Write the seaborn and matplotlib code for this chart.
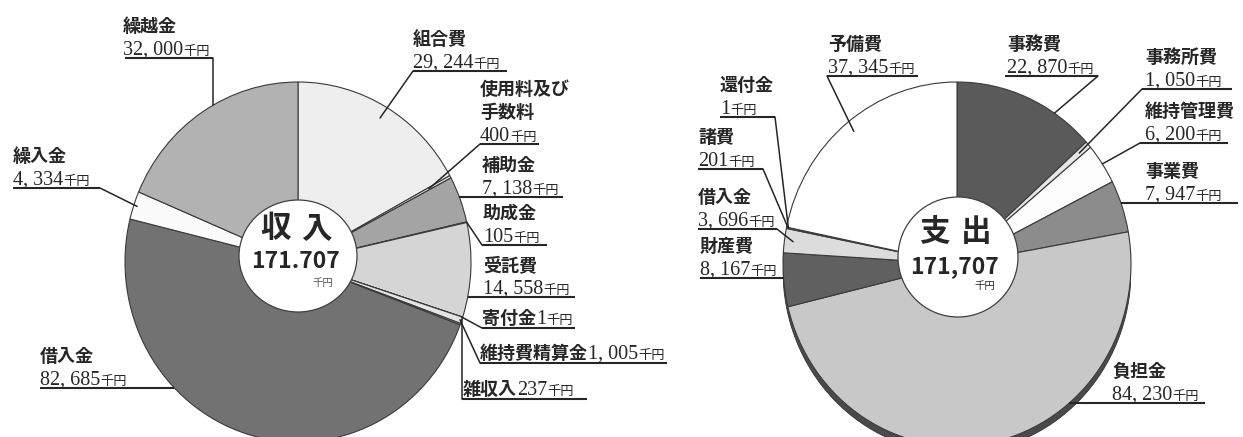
import numpy as np
import matplotlib
matplotlib.use("Agg")
import matplotlib.pyplot as plt
from matplotlib.patches import Ellipse
import seaborn as sns

# ---------------- data ----------------
inc_labels = ["組合費", "使用料及び\n手数料", "補助金", "助成金", "受託費", "寄付金",
              "維持費精算金", "雑収入", "借入金", "繰入金", "繰越金"]
inc_values = [29244, 400, 7138, 105, 14558, 1, 1005, 237, 82685, 4334, 32000]
inc_colors = ["#eeeeee", "#dedede", "#a4a4a4", "#cccccc", "#d5d5d5", "#999999",
              "#e4e4e4", "#bbbbbb", "#727272", "#fbfbfb", "#b2b2b2"]
inc_title = "収 入"
inc_total = "171.707"

exp_labels = ["事務費", "事務所費", "維持管理費", "事業費", "負担金", "財産費",
              "借入金", "諸費", "還付金", "予備費"]
exp_values = [22870, 1050, 6200, 7947, 84230, 8167, 3696, 201, 1, 37345]
exp_colors = ["#5a5a5a", "#e6e6e6", "#fdfdfd", "#8c8c8c", "#c8c8c8", "#606060",
              "#dcdcdc", "#bbbbbb", "#888888", "#ffffff"]
exp_title = "支 出"
exp_total = "171,707"
unit = "千円"

# ---------------- style ----------------
sns.set_theme(style="white")
plt.rcParams["font.family"] = ["Noto Sans CJK JP", "DejaVu Sans"]

W, H = 1243, 437
fig = plt.figure(figsize=(W / 100, H / 100), dpi=100)
fig.patch.set_facecolor("white")

INK = "#262626"
CJK = ["Noto Sans CJK JP", "DejaVu Sans"]
NAME = dict(fontsize=13, fontweight="bold", family=CJK, color=INK)
NUM = dict(fontsize=14.5, family=["Liberation Serif", "DejaVu Serif"], color=INK)
UNIT = dict(fontsize=9.5, family=CJK, color=INK)

# geometry of each donut (pixels): outer ellipse centre/semi-axes, hole centre/radii
inc_geo = dict(cx=298, cy=262, a=173, b=180, hx=298, hy=256, hr=59, hry=56, rim=0)
exp_geo = dict(cx=957, cy=264, a=174, b=182, hx=958, hy=257, hr=60, hry=60, rim=7)

# label layout: text x, underline y, underline span, leader spec, inline flag
inc_layout = [
    dict(x=413, ul=71, span=(413, 507), lead=("pt", 0.5, 0.93, 413)),
    dict(x=480, ul=144, span=(480, 539), lead=("pt", 0.5, 0.86, 480)),
    dict(x=482, ul=197, span=(None, 563), lead=("edge",)),
    dict(x=483, ul=245, span=(482, 547), lead=("pt", 0.5, 1.0, 482)),
    dict(x=483, ul=297, span=(None, 575), lead=("edge",)),
    dict(x=482, ul=328, span=(482, 575), lead=("pt", 0.5, 0.99, 482), inline=True),
    dict(x=480, ul=363, span=(480, 667), lead=("pt", 0.5, 0.99, 480), inline=True),
    dict(x=463, ul=399, span=(462, 587), lead=("vert", 462), inline=True),
    dict(x=40, ul=388, span=(40, None), lead=("edge",)),
    dict(x=13, ul=188, span=(13, 100), lead=("pt", 0.5, 0.98, 100)),
    dict(x=123, ul=58, span=(125, 213), lead=("vert", 213)),
]
exp_layout = [
    dict(x=1007, ul=76, span=(1005, 1098), lead=("pt", 0.71, 1.0, 1098)),
    dict(x=1145, ul=89, span=(1142, 1232), lead=("pt", 0.5, 0.93, 1142)),
    dict(x=1145, ul=143, span=(1140, 1228), lead=("pt", 0.5, 1.0, 1140)),
    dict(x=1145, ul=203, span=(None, 1238), lead=("edge",)),
    dict(x=1112, ul=403, span=(None, 1205), lead=("edge",)),
    dict(x=700, ul=278, span=(700, None), lead=("edge",)),
    dict(x=698, ul=229, span=(698, 777), lead=("pt", 0.5, 0.95, 777)),
    dict(x=698, ul=169, span=(698, 763), lead=("pt", 0.5, 0.99, 763)),
    dict(x=720, ul=117, span=(720, 775), lead=("pt", 0.5, 0.99, 775)),
    dict(x=828, ul=76, span=(827, 918), lead=("pt", 0.5, 0.94, 827)),
]


def draw_donut(values, colors, g):
    pa = fig.add_axes([(g["cx"] - g["a"]) / W, 1 - (g["cy"] + g["b"]) / H,
                       2 * g["a"] / W, 2 * g["b"] / H])
    if g["rim"]:
        pa.add_patch(Ellipse((0, -g["rim"] / g["b"]), 2, 2, facecolor="#4a4a4a",
                             edgecolor="#333333", lw=0.6, zorder=0.5))
    pa.pie(values, colors=colors, startangle=90, counterclock=False, radius=1,
           wedgeprops=dict(edgecolor="#3a3a3a", linewidth=0.8))
    pa.add_patch(Ellipse(((g["hx"] - g["cx"]) / g["a"], -(g["hy"] - g["cy"]) / g["b"]),
                         2 * g["hr"] / g["a"], 2 * g["hry"] / g["b"],
                         facecolor="white", edgecolor="#404040", lw=0.9, zorder=5))
    pa.set_aspect("auto")
    pa.set_xlim(-1, 1)
    pa.set_ylim(-1, 1)
    pa.axis("off")


draw_donut(inc_values, inc_colors, inc_geo)
draw_donut(exp_values, exp_colors, exp_geo)

ov = fig.add_axes([0, 0, 1, 1])
ov.set_xlim(0, W)
ov.set_ylim(H, 0)
ov.axis("off")
ov.patch.set_alpha(0)
renderer = fig.canvas.get_renderer()


def runs(x, y, parts):
    for s, kw in parts:
        t = ov.text(x, y, s, ha="left", va="baseline", **kw)
        x += t.get_window_extent(renderer=renderer).width


def fmt(v):
    return f"{v:,}".replace(",", ", ")


def label_set(labels, values, layout, g):
    total = sum(values)
    cum = np.concatenate([[0], np.cumsum(values)])
    for i, (lab, v, lay) in enumerate(zip(labels, values, layout)):
        ul = lay["ul"]
        x = lay["x"]
        if lay.get("inline"):
            runs(x, ul - 4, [(lab, NAME), (fmt(v), NUM), (unit, UNIT)])
        else:
            runs(x, ul - 3, [(fmt(v), NUM), (unit, UNIT)])
            lines = lab.split("\n")
            for k, ln in enumerate(reversed(lines)):
                runs(x, ul - 4 - 21 * (k + 1) - (1 if k == 0 else 3), [(ln, NAME)])
        x0, x1 = lay["span"]
        lead = lay["lead"]
        if lead[0] == "edge":
            dx = g["a"] * np.sqrt(max(0.0, 1 - ((ul - g["cy"]) / g["b"]) ** 2))
            ex = g["cx"] + dx if x > g["cx"] else g["cx"] - dx
            if x0 is None:
                x0 = ex
            else:
                x1 = ex
        ov.plot([x0, x1], [ul, ul], color=INK, lw=1.5, solid_capstyle="butt")
        if lead[0] == "pt":
            _, t, r, ex = lead
            th = np.deg2rad(360.0 * (cum[i] + t * values[i]) / total)
            px = g["cx"] + g["a"] * r * np.sin(th)
            py = g["cy"] - g["b"] * r * np.cos(th)
            ov.plot([ex, px], [ul, py], color=INK, lw=1.1)
        elif lead[0] == "vert":
            ex = lead[1]
            dy = g["b"] * np.sqrt(max(0.0, 1 - ((ex - g["cx"]) / g["a"]) ** 2))
            py = g["cy"] - dy if ul < g["cy"] else g["cy"] + dy
            ov.plot([ex, ex], [ul, py], color=INK, lw=1.1)


label_set(inc_labels, inc_values, inc_layout, inc_geo)
label_set(exp_labels, exp_values, exp_layout, exp_geo)


def centre(title, total, tx, ty, half_gap, ny, ux, uy, ucol):
    for ch, dx in zip(title.split(" "), (-half_gap, half_gap)):
        ov.text(tx + dx, ty, ch, ha="center", va="center", fontsize=22,
                fontweight="bold", family=CJK, color=INK)
    ov.text(tx, ny, total, ha="center", va="center", fontsize=16.5,
            fontweight="bold", family=CJK, color=INK)
    ov.text(ux, uy, unit, ha="center", va="center", fontsize=7.5, family=CJK, color=ucol)


centre(inc_title, inc_total, 296, 228, 20, 262, 323, 283, "#555555")
centre(exp_title, exp_total, 955, 232, 21, 267, 985, 286, INK)

fig.savefig("out.png", dpi=100, facecolor="white")
